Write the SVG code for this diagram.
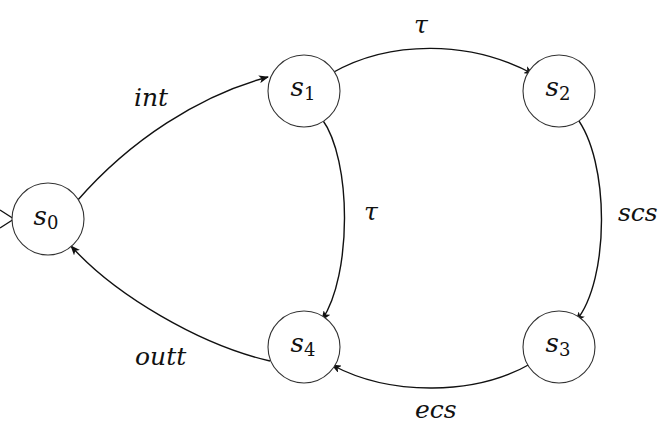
<svg xmlns="http://www.w3.org/2000/svg" width="663" height="435" viewBox="0 0 663 435">
<style>
.st{fill:#fff;stroke:#333;stroke-width:1.1}
.e{fill:none;stroke:#111;stroke-width:1.4;marker-end:url(#ah)}
.t{font-family:"DejaVu Serif","Liberation Serif",serif;font-style:italic;font-size:25px;fill:#111}
.n{font-family:"DejaVu Serif","Liberation Serif",serif;font-size:26px;fill:#111;text-anchor:middle}
.sub{font-style:normal;font-size:18px}
</style>
<defs>
<marker id="ah" viewBox="0 0 10 8" refX="9" refY="4" markerWidth="10" markerHeight="8" markerUnits="userSpaceOnUse" orient="auto">
<path d="M0,0 L10,4 L0,8 L2.5,4 z" fill="#111"/>
</marker>
</defs>
<g id="edges">
<path class="e" d="M77,201 C130,140 200,95 268,77"/>
<path class="e" d="M332,73 C390,40 470,40 533,74"/>
<path class="e" d="M322,119 C352,160 352,275 322,320"/>
<path class="e" d="M576,117 C610,160 610,280 576,321"/>
<path class="e" d="M532,363 C475,396 390,396 332,365"/>
<path class="e" d="M270,361 C200,345 115,295 71,246"/>
<path d="M0,210 L14,219 L0,228" fill="none" stroke="#111" stroke-width="1.3"/>
</g>
<g id="s0"><circle class="st" cx="48" cy="219" r="36"/><text class="n" x="46" y="225"><tspan font-style="italic">s</tspan><tspan class="sub" dy="4">0</tspan></text></g>
<g id="s1"><circle class="st" cx="304" cy="91" r="36"/><text class="n" x="303" y="96"><tspan font-style="italic">s</tspan><tspan class="sub" dy="4">1</tspan></text></g>
<g id="s2"><circle class="st" cx="559" cy="91" r="36"/><text class="n" x="558" y="96"><tspan font-style="italic">s</tspan><tspan class="sub" dy="4">2</tspan></text></g>
<g id="s3"><circle class="st" cx="559" cy="347" r="36"/><text class="n" x="558" y="352"><tspan font-style="italic">s</tspan><tspan class="sub" dy="4">3</tspan></text></g>
<g id="s4"><circle class="st" cx="304" cy="347" r="36"/><text class="n" x="303" y="352"><tspan font-style="italic">s</tspan><tspan class="sub" dy="4">4</tspan></text></g>
<g id="labels">
<text class="t" x="134" y="106">int</text>
<text class="t" x="414" y="33">τ</text>
<text class="t" x="364" y="220">τ</text>
<text class="t" x="618" y="221">scs</text>
<text class="t" x="415" y="418">ecs</text>
<text class="t" x="135" y="365">outt</text>
</g>
</svg>
